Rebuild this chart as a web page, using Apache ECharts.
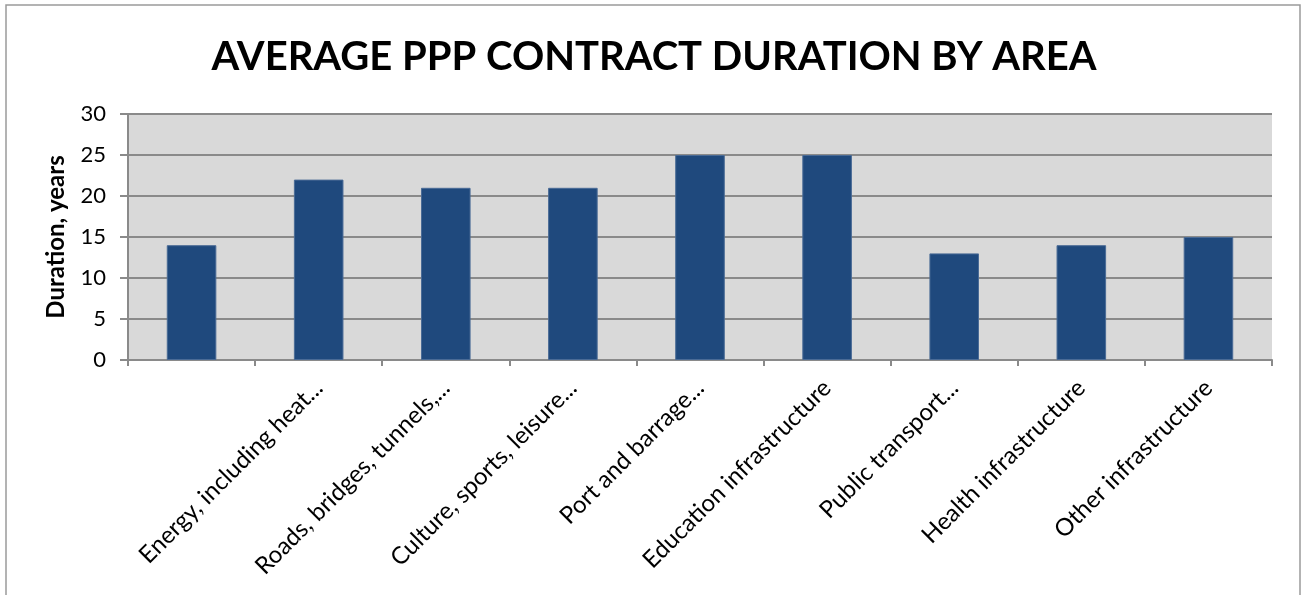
<!DOCTYPE html>
<html>
<head>
<meta charset="utf-8">
<script src="https://cdn.jsdelivr.net/npm/echarts@6/dist/echarts.min.js"></script>
<style>
  html, body { margin: 0; padding: 0; background: #fff; }
  #chart { width: 1308px; height: 595px; }
</style>
</head>
<body>
<div id="chart"></div>
<script>
// data
const areas = [
    '',
    'Energy, including heat...',
    'Roads, bridges, tunnels,...',
    'Culture, sports, leisure...',
    'Port and barrage...',
    'Education infrastructure',
    'Public transport...',
    'Health infrastructure',
    'Other infrastructure'
];
const durations = [14, 22, 21, 21, 25, 25, 13, 14, 15];
const yTicks = { min: 0, max: 30, step: 5 };

const FONT = 'Lato, "Open Sans", sans-serif';
const GRID_GREY = '#8a8a8a';

function initChart() {
    const chart = echarts.init(document.getElementById('chart'));

    const option = {
        animation: false,
        title: {
            text: 'AVERAGE PPP CONTRACT DURATION BY AREA',
            left: 'center',
            top: 32,
            textStyle: { fontFamily: FONT, fontSize: 40, fontWeight: 'bold', color: '#000' }
        },
        // thin frame round the chart area, like the original export
        graphic: [{
            type: 'rect',
            shape: { x: 6, y: 5, width: 1294, height: 640 },
            style: { fill: 'none', stroke: '#9a9a9a', lineWidth: 1.5 },
            silent: true
        }],
        grid: {
            left: 128,
            right: 36,
            top: 114,
            bottom: 235,
            show: true,
            backgroundColor: '#d9d9d9',
            borderWidth: 0
        },
        xAxis: {
            type: 'category',
            data: areas,
            axisLine: { lineStyle: { color: GRID_GREY, width: 2 } },
            axisTick: { show: true, length: 6, lineStyle: { color: GRID_GREY, width: 2 } },
            axisLabel: {
                interval: 0,
                rotate: 45,
                margin: 24,
                color: '#000',
                fontFamily: FONT,
                fontSize: 24
            }
        },
        yAxis: {
            type: 'value',
            min: yTicks.min,
            max: yTicks.max,
            interval: yTicks.step,
            name: 'Duration, years',
            nameLocation: 'middle',
            nameGap: 60,
            nameTextStyle: { fontFamily: FONT, fontSize: 24, fontWeight: 'bold', color: '#000' },
            axisLine: { show: true, lineStyle: { color: GRID_GREY, width: 2 } },
            axisTick: { show: true, length: 8, lineStyle: { color: GRID_GREY, width: 2 } },
            axisLabel: { margin: 22, color: '#000', fontFamily: FONT, fontSize: 22 },
            splitLine: { lineStyle: { color: GRID_GREY, width: 2 } }
        },
        series: [{
            type: 'bar',
            data: durations,
            barWidth: '39%',
            itemStyle: { color: '#1f497d', borderColor: '#4a6b96', borderWidth: 1 }
        }]
    };

    chart.setOption(option);
}

document.addEventListener('DOMContentLoaded', initChart);
</script>
</body>
</html>
